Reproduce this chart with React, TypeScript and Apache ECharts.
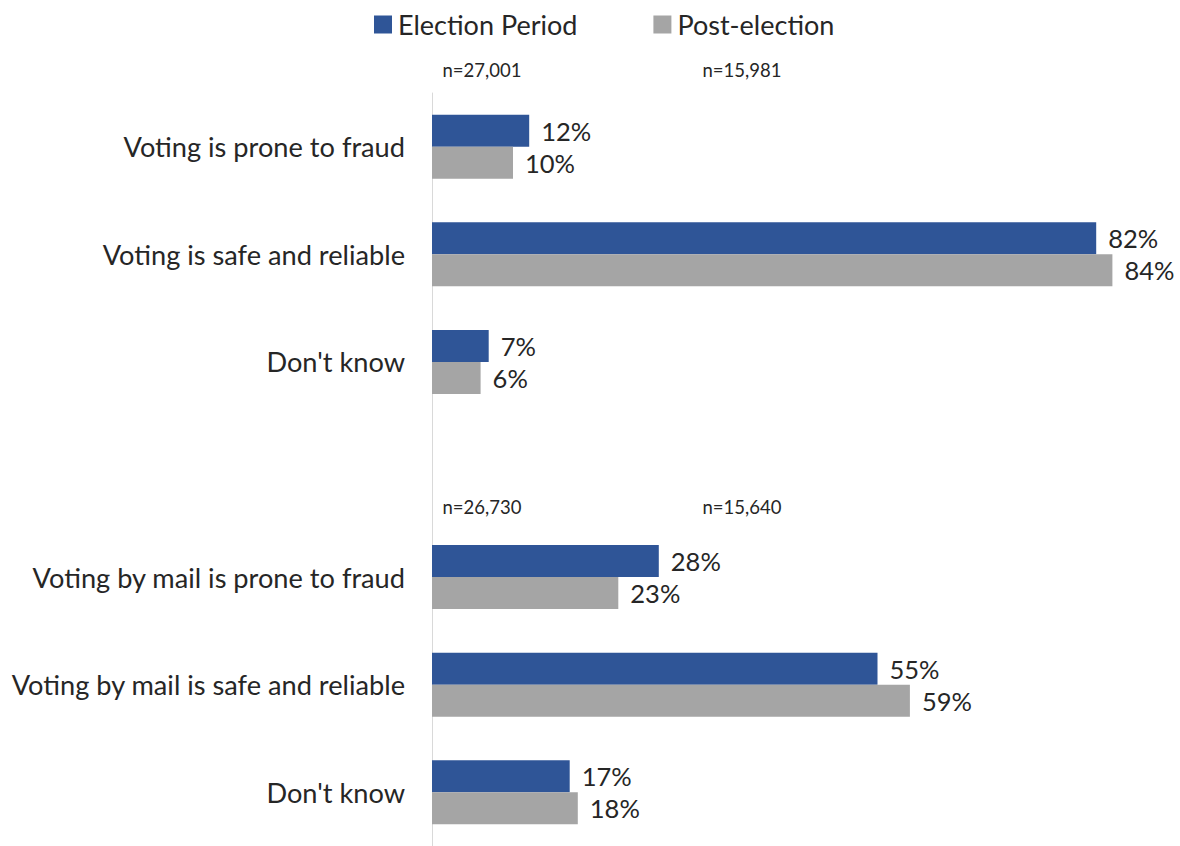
import React, { useEffect, useRef } from "react";
import * as echarts from "echarts";

const categories = [
  "Voting is prone to fraud",
  "Voting is safe and reliable",
  "Don't know",
  "",
  "Voting by mail is prone to fraud",
  "Voting by mail is safe and reliable",
  "Don't know",
];
const electionPeriod: (number | null)[] = [12, 82, 7, null, 28, 55, 17];
const postElection: (number | null)[] = [10, 84, 6, null, 23, 59, 18];
const seriesNames = ["Election Period", "Post-election"];
const sampleNotesTop = ["n=27,001", "n=15,981"];
const sampleNotesBottom = ["n=26,730", "n=15,640"];

const FONT = "Lato, 'Open Sans', sans-serif";

export default function App() {
  const ref = useRef<HTMLDivElement>(null);
  useEffect(() => {
    if (!ref.current) return;
    const chart = echarts.init(ref.current, null, { renderer: "svg" });
    const labelStyle = {
      show: true,
      position: "right" as const,
      distance: 12,
      formatter: (p: any) => (p.value == null ? "" : p.value + "%"),
      fontSize: 25.5,
      color: "#262626",
      fontFamily: FONT,
    };
    const noteStyle = (t: string) => ({
      text: t,
      fontSize: 18.5,
      fill: "#262626",
      fontFamily: FONT,
      textAlign: "center",
      textVerticalAlign: "middle",
    });
    chart.setOption({
      animation: false,
      textStyle: { fontFamily: FONT },
      legend: {
        top: 6,
        left: 369,
        itemWidth: 18,
        itemHeight: 18,
        itemGap: 76,
        icon: "rect",
        textStyle: { fontSize: 27, color: "#262626", fontFamily: FONT, padding: [0, 0, 0, 1] },
        data: seriesNames,
      },
      grid: { left: 432, top: 93, height: 756, width: 729, containLabel: false },
      xAxis: {
        type: "value",
        min: 0,
        max: 90,
        show: false,
      },
      yAxis: {
        type: "category",
        inverse: true,
        data: categories,
        axisLine: { show: true, lineStyle: { color: "#d9d9d9", width: 1 } },
        axisTick: { show: false },
        axisLabel: {
          fontSize: 27.2,
          color: "#262626",
          fontFamily: FONT,
          margin: 27,
        },
        splitLine: { show: false },
      },
      series: [
        {
          name: seriesNames[0],
          type: "bar",
          data: electionPeriod,
          barWidth: 32,
          barGap: "0%",
          itemStyle: { color: "#2F5597" },
          label: labelStyle,
        },
        {
          name: seriesNames[1],
          type: "bar",
          data: postElection,
          barWidth: 32,
          barGap: "0%",
          itemStyle: { color: "#A5A5A5" },
          label: labelStyle,
        },
      ],
      graphic: [
        ...sampleNotesTop.map((t, i) => ({
          type: "text",
          x: i === 0 ? 482 : 742,
          y: 70,
          style: noteStyle(t),
        })),
        ...sampleNotesBottom.map((t, i) => ({
          type: "text",
          x: i === 0 ? 482 : 742,
          y: 507,
          style: noteStyle(t),
        })),
      ],
    });
    return () => chart.dispose();
  }, []);
  return (
    <div
      ref={ref}
      style={{ position: "fixed", left: 0, top: 0, width: 1180, height: 846, background: "#fff" }}
    />
  );
}
